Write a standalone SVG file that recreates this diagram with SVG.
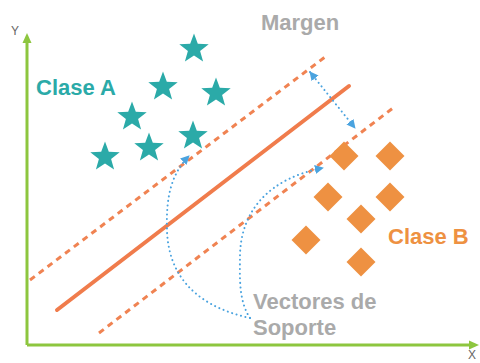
<svg xmlns="http://www.w3.org/2000/svg" width="480" height="363" viewBox="0 0 480 363">
<defs>
<style>
.lbl{font-family:"Liberation Sans",Arial,sans-serif;font-weight:bold;font-size:22px}
.ax{font-family:"Liberation Sans",Arial,sans-serif;font-size:12px;fill:#666}
.axis{stroke:#8DC63F;stroke-width:3;fill:none}
.dash{stroke:#F08352;stroke-width:3;stroke-dasharray:6 5;fill:none}
.dot{stroke:#4AA3DF;stroke-width:2;stroke-dasharray:0.1 4.5;stroke-linecap:round;fill:none}
</style>
<path id="star" d="M0,-15.5 L3.8,-5.2 L14.7,-4.8 L6.1,2 L9.1,12.5 L0,6.4 L-9.1,12.5 L-6.1,2 L-14.7,-4.8 L-3.8,-5.2 Z" fill="#2BAAA8"/>
<path id="dia" d="M0,-14.5 L14.5,0 L0,14.5 L-14.5,0 Z" fill="#EE9142"/>
<marker id="ab" viewBox="0 0 10 10" refX="9" refY="5" markerWidth="9" markerHeight="9" markerUnits="userSpaceOnUse" orient="auto-start-reverse">
<path d="M0,0 L10,5 L0,10 Z" fill="#4AA3DF"/>
</marker>
</defs>
<rect width="480" height="363" fill="#fff"/>
<g id="axes">
<line class="axis" x1="27" y1="345" x2="27" y2="40"/>
<path d="M27,33 L31.5,43 L22.5,43 Z" fill="#8DC63F"/>
<line class="axis" x1="27" y1="345" x2="470" y2="345"/>
<path d="M479,345 L469,340.5 L469,349.5 Z" fill="#8DC63F"/>
<text class="ax" x="11" y="35">Y</text>
<text class="ax" x="468" y="359">X</text>
</g>
<g id="connectors">
<line x1="57" y1="310" x2="349" y2="86" stroke="#F07C4C" stroke-width="4" stroke-linecap="round"/>
<line class="dash" x1="30" y1="280" x2="325" y2="57"/>
<line class="dash" x1="99" y1="333" x2="393" y2="108"/>
<line class="dot" x1="310" y1="72" x2="355" y2="128" marker-start="url(#ab)" marker-end="url(#ab)"/>
<path class="dot" d="M250,318 C190,305 168,270 167,230 C166,200 170,175 189,156" marker-end="url(#ab)"/>
<path class="dot" d="M250,318 C238,300 240,275 240,255 C241,210 270,178 323,168" marker-end="url(#ab)"/>
</g>
<g id="claseA">
<use href="#star" x="194" y="49"/>
<use href="#star" x="163" y="87"/>
<use href="#star" x="216" y="93"/>
<use href="#star" x="132" y="117"/>
<use href="#star" x="149" y="148"/>
<use href="#star" x="193" y="136"/>
<use href="#star" x="105" y="157"/>
<text class="lbl" x="36" y="95" fill="#2BAAA8">Clase A</text>
</g>
<g id="claseB">
<use href="#dia" x="344" y="156"/>
<use href="#dia" x="390" y="156"/>
<use href="#dia" x="328" y="197"/>
<use href="#dia" x="390" y="197"/>
<use href="#dia" x="361" y="219"/>
<use href="#dia" x="306" y="240"/>
<use href="#dia" x="361" y="262"/>
<text class="lbl" x="388" y="244" fill="#EE9142">Clase B</text>
</g>
<g id="margen">
<text class="lbl" x="261" y="30" fill="#AAAAAA">Margen</text>
</g>
<g id="vectores">
<text class="lbl" x="253" y="309" fill="#AAAAAA">Vectores de</text>
<text class="lbl" x="253" y="335" fill="#AAAAAA">Soporte</text>
</g>
</svg>
